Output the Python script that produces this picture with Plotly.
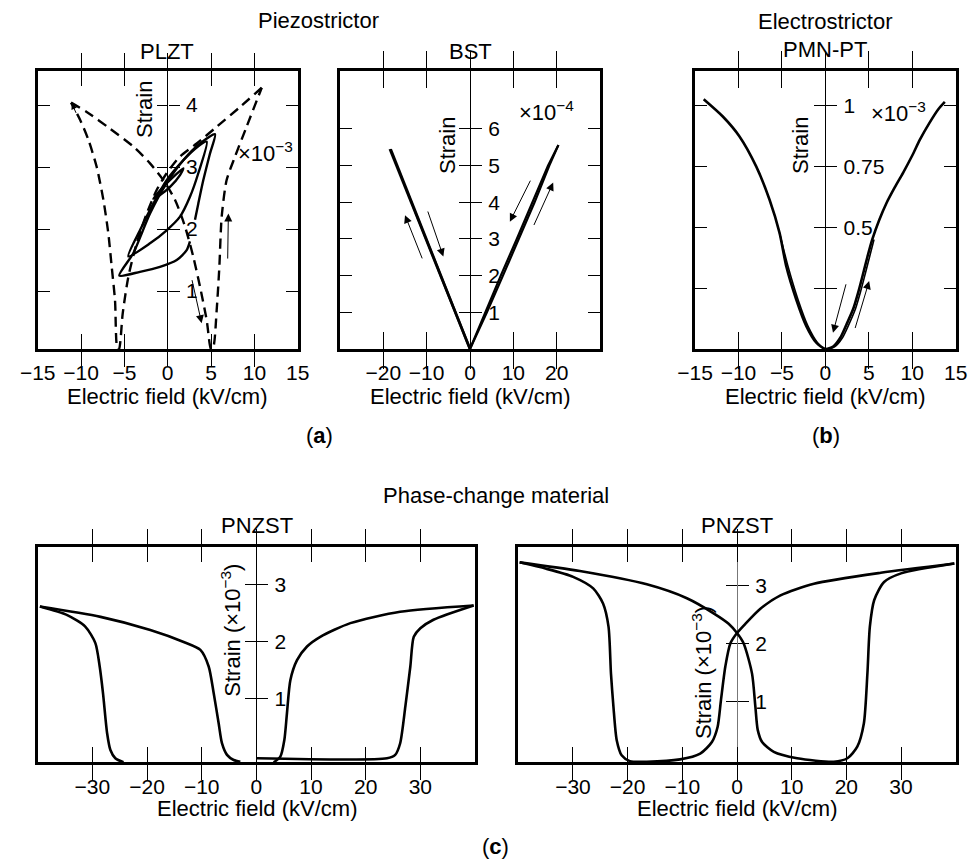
import plotly.graph_objects as go

W, H = 969, 860
FONT = "Liberation Sans, Arial, Helvetica, sans-serif"

# ---------------- (a) PLZT : strain (x1e-3) vs field (kV/cm) ----------------
plzt_dash1_x = [-11.15, -9.35, -6.65, -3.96, -2.04, -0.5, 0.85, 2.0, 2.96, 3.73, 4.5, 5.0,
                5.27, 5.65, 5.96, 6.23, 6.8, 7.77, 9.1, 10.85]
plzt_dash1_y = [4.04, 3.89, 3.62, 3.33, 3.06, 2.79, 2.47, 2.04, 1.55, 1.07, 0.53, 0.065,
                0.10, 0.69, 1.39, 2.2, 2.79, 3.17, 3.65, 4.28]
plzt_dash2_x = [10.85, 8.35, 5.65, 3.35, 1.42, -0.12, -1.27, -2.42, -3.58, -4.54, -5.19, -5.62,
                -5.8, -6.08, -6.46, -6.85, -7.42, -8.19, -9.15, -10.1, -11.15]
plzt_dash2_y = [4.28, 3.97, 3.65, 3.38, 3.17, 2.9, 2.63, 2.25, 1.77, 1.23, 0.64, 0.065,
                0.065, 0.85, 1.39, 1.93, 2.47, 3.0, 3.44, 3.76, 4.04]
# large minor loop: lower branch -> upper branch -> descending branch
plzt_loop1_x = [2.57, 2.19, 1.04, -0.89, -3.2, -5.58, -3.97, -2.04, -0.12, 1.8, 3.73, 5.46,
                4.88, 4.11, 3.53, 3.15]
plzt_loop1_y = [1.8, 1.66, 1.5, 1.39, 1.31, 1.25, 1.61, 2.25, 2.74, 3.11, 3.38, 3.53,
                3.22, 2.79, 2.41, 2.15]
plzt_loop2_x = [-4.54, -3.2, -1.66, -0.12, 1.8, 3.2, 4.5, 3.53, 2.57, 1.42, -0.12, -2.04, -4.54]
plzt_loop2_y = [1.56, 1.98, 2.41, 2.79, 3.11, 3.3, 3.41, 2.9, 2.52, 2.2, 1.98, 1.77, 1.56]
plzt_loop3_x = [-1.66, -0.5, 0.65, 1.8, 1.42, 0.27, -0.88, -1.66]
plzt_loop3_y = [2.49, 2.68, 2.84, 2.98, 2.87, 2.68, 2.55, 2.49]

# ---------------- (a) BST : strain (x1e-4) ----------------
bst_left1_x = [0, -18.5]
bst_left1_y = [0, 5.45]
bst_left2_x = [0, -9.0, -18.3]
bst_left2_y = [0, 2.7, 5.45]
bst_right1_x = [0, 3.5, 7.1, 10.8, 14.4, 18.0, 20.4]
bst_right1_y = [0, 1.0, 2.0, 3.0, 4.0, 5.0, 5.56]
bst_right2_x = [0, 3.9, 7.6, 11.3, 14.9, 18.3, 20.4]
bst_right2_y = [0, 1.0, 2.0, 3.0, 4.0, 5.0, 5.56]

# ---------------- (b) PMN-PT : strain (x1e-3) ----------------
pmn1_x = [-14.0, -11.8, -9.88, -7.96, -6.42, -5.27, -4.5, -3.35, -2.19, -1.04, 0,
          0.9, 1.7, 2.42, 3.19, 3.8, 4.35, 4.85, 5.4, 6.2, 7.04, 8.0, 8.96, 10.0, 10.88, 12.0, 13.0, 13.75]
pmn1_y = [1.026, 0.955, 0.873, 0.75, 0.613, 0.477, 0.34, 0.2035, 0.094, 0.026, 0,
          0.01, 0.045, 0.1, 0.163, 0.235, 0.31, 0.38, 0.45, 0.53, 0.6, 0.665, 0.725, 0.795, 0.86, 0.93, 0.985, 1.015]
pmn2_x = [-5.27, -4.3, -3.15, -2.0, -0.9, 0, 1.1, 1.95, 2.7, 3.45, 4.05, 4.6, 5.1, 5.6]
pmn2_y = [0.477, 0.34, 0.2035, 0.094, 0.026, 0, 0.01, 0.045, 0.1, 0.163, 0.235, 0.31, 0.38, 0.45]

# ---------------- (c) PNZST left : strain (x1e-3) ----------------
pnz1_a_x = [-39.6, -28.5, -19.4, -13.3, -10.24, -8.72, -7.8, -6.89, -6.28, -5.37, -4.15, -2.93]
pnz1_a_y = [2.62, 2.44, 2.21, 2.0, 1.86, 1.57, 1.1, 0.57, 0.22, 0.02, -0.07, -0.1]
pnz1_b_x = [-39.6, -34.6, -31.3, -29.45, -28.66, -28.05, -27.3, -26.7, -25.8, -24.3]
pnz1_b_y = [2.62, 2.47, 2.27, 1.98, 1.57, 1.1, 0.4, 0.105, -0.04, -0.11]
pnz1_c_x = [3.17, 4.39, 5.12, 5.6, 6.22, 7.44, 9.27, 11.7, 17.2, 26.3, 39.75]
pnz1_c_y = [-0.11, -0.01, 0.28, 0.75, 1.33, 1.68, 1.92, 2.09, 2.33, 2.53, 2.64]
pnz1_d_x = [0.12, 23.9, 25.4, 26.3, 27.26, 28.17, 28.8, 30.0, 32.4, 39.75]
pnz1_d_y = [-0.04, -0.04, 0.02, 0.22, 0.87, 1.57, 2.09, 2.24, 2.39, 2.64]

# ---------------- (c) PNZST right : strain (x1e-3) ----------------
pnz2_e_x = [-39.75, -28.75, -16.5, -9.17, -4.28, -1.53, 0, 1.22, 2.75, 3.36, 3.79, 4.59, 6.73,
            11.0, 17.7, 20.2, 22.0, 23.2, 23.85, 24.3, 25.1, 26.9, 30.0, 39.75]
pnz2_e_y = [3.40, 3.25, 3.02, 2.78, 2.52, 2.34, 2.18, 2.0, 1.48, 0.91, 0.51, 0.30, 0.13,
            0.02, -0.04, 0.02, 0.22, 0.62, 1.48, 2.29, 2.75, 3.06, 3.21, 3.38]
pnz2_f_x = [39.75, 26.3, 14.07, 7.95, 4.28, 1.53, 0, -1.22, -2.14, -2.94, -3.55, -4.59, -6.73,
            -10.4, -16.5, -19.6, -21.1, -22.0, -22.6, -23.05, -23.5, -24.5, -26.3, -29.97, -34.9, -39.75]
pnz2_f_y = [3.38, 3.22, 3.03, 2.83, 2.6, 2.34, 2.18, 2.0, 1.6, 1.02, 0.56, 0.30, 0.10,
            0.0, -0.04, -0.03, 0.07, 0.33, 0.91, 1.48, 2.29, 2.69, 2.95, 3.15, 3.29, 3.40]

# ---------------- axis ticks ----------------
ticks_x = {1: [-15, -10, -5, 0, 5, 10, 15], 2: [-20, -10, 0, 10, 20], 3: [-15, -10, -5, 0, 5, 10, 15],
           4: [-30, -20, -10, 0, 10, 20, 30], 5: [-30, -20, -10, 0, 10, 20, 30]}
ticks_y = {1: [1, 2, 3, 4], 2: [1, 2, 3, 4, 5, 6], 3: [0.25, 0.5, 0.75, 1], 4: [1, 2, 3], 5: [1, 2, 3]}
labels_y = {1: ["1", "2", "3", "4"], 2: ["1", "2", "3", "4", "5", "6"], 3: ["", "0.5", "0.75", "1"],
            4: ["1", "2", "3"], 5: ["1", "2", "3"]}

# panel geometry in pixels (left, right, top, bottom) and data ranges
panels = {
    1: dict(px=(37.7, 297.7), py=(71, 349), xr=(-15, 15), yr=(0.065, 4.55), boxy=True, xtl=15, zc="black"),
    2: dict(px=(340, 600), py=(71, 349), xr=(-30, 30), yr=(0, 7.58), boxy=True, xtl=17, zc="black"),
    3: dict(px=(695, 955.7), py=(71, 349), xr=(-15, 15), yr=(0, 1.142), boxy=True, xtl=17, zc="black"),
    4: dict(px=(37.7, 475), py=(546.7, 762.3), xr=(-40, 40), yr=(-0.11, 3.67), boxy=False, xtl=15, zc="black"),
    5: dict(px=(518.3, 955.7), py=(546.7, 762.3), xr=(-40, 40), yr=(-0.05, 3.67), boxy=False, xtl=15, zc="#777777"),
}


def xid(i):
    return "x" if i == 1 else f"x{i}"


def yid(i):
    return "y" if i == 1 else f"y{i}"


fig = go.Figure()
layout = {}
tickfont = dict(family=FONT, size=21, color="black")

for i, p in panels.items():
    xd = [p["px"][0] / W, p["px"][1] / W]
    yd = [1 - p["py"][1] / H, 1 - p["py"][0] / H]
    layout["xaxis" if i == 1 else f"xaxis{i}"] = dict(
        domain=xd, range=list(p["xr"]), anchor=yid(i), showgrid=False, automargin=False,
        zeroline=True, zerolinecolor=p["zc"], zerolinewidth=1.2,
        showline=True, linewidth=3, linecolor="black", mirror="allticks",
        ticks="inside", ticklen=p["xtl"], tickwidth=1.3, tickcolor="black",
        tickmode="array", tickvals=ticks_x[i], tickfont=tickfont, ticklabelstandoff=3,
        fixedrange=True)
    layout["yaxis" if i == 1 else f"yaxis{i}"] = dict(
        domain=yd, range=list(p["yr"]), anchor=xid(i), showgrid=False, zeroline=False,
        automargin=False,
        showline=True, linewidth=3, linecolor="black",
        mirror="allticks" if p["boxy"] else True,
        ticks="inside" if p["boxy"] else "", ticklen=12, tickwidth=1.3, tickcolor="black",
        tickmode="array", tickvals=ticks_y[i], showticklabels=False, fixedrange=True)
    x0frac = xd[0] + (0 - p["xr"][0]) / (p["xr"][1] - p["xr"][0]) * (xd[1] - xd[0])
    # crossing ticks on the zero line: right half with labels, left half without
    for j, side in ((5 + i, "right"), (10 + i, "left")):
        layout[f"yaxis{j}"] = dict(
            overlaying=yid(i), anchor="free", position=x0frac, side=side,
            range=list(p["yr"]), showgrid=False, zeroline=False, showline=False,
            automargin=False,
            ticks="outside", ticklen=11, tickwidth=1.3, tickcolor="black",
            tickmode="array", tickvals=ticks_y[i], ticktext=labels_y[i],
            showticklabels=(side == "right"), tickfont=tickfont, ticklabelstandoff=2,
            fixedrange=True)
        fig.add_trace(go.Scatter(x=[None], y=[None], xaxis=xid(i), yaxis=f"y{j}",
                                 showlegend=False, hoverinfo="skip"))


def line(i, xs, ys, dash="solid", width=2.6, shape="spline"):
    fig.add_trace(go.Scatter(x=xs, y=ys, mode="lines", xaxis=xid(i), yaxis=yid(i),
                             line=dict(color="black", width=width, dash=dash, shape=shape,
                                       smoothing=0.7),
                             showlegend=False, hoverinfo="skip", cliponaxis=True))


dash = "10px,6px"
line(1, plzt_dash1_x, plzt_dash1_y, dash=dash, width=2.4)
line(1, plzt_dash2_x, plzt_dash2_y, dash=dash, width=2.4)
line(1, plzt_loop1_x, plzt_loop1_y, width=2.4)
line(1, plzt_loop2_x, plzt_loop2_y, width=2.4)
line(1, plzt_loop3_x, plzt_loop3_y, width=2.4)

line(2, bst_left1_x, bst_left1_y, shape="linear", width=2.6)
line(2, bst_left2_x, bst_left2_y, shape="linear", width=2.6)
line(2, bst_right1_x, bst_right1_y, shape="linear", width=2.2)
line(2, bst_right2_x, bst_right2_y, shape="linear", width=2.2)

line(3, pmn1_x, pmn1_y, width=2.6)
line(3, pmn2_x, pmn2_y, width=1.6)

line(4, pnz1_a_x, pnz1_a_y, width=2.6)
line(4, pnz1_b_x, pnz1_b_y, width=2.6)
line(4, pnz1_c_x, pnz1_c_y, width=2.6)
line(4, pnz1_d_x, pnz1_d_y, width=2.6)

line(5, pnz2_e_x, pnz2_e_y, width=2.6)
line(5, pnz2_f_x, pnz2_f_y, width=2.6)

annotations = []


def arrow(i, hx, hy, tx, ty, size=1.6):
    annotations.append(dict(x=hx, y=hy, ax=tx, ay=ty, xref=xid(i), yref=yid(i),
                            axref=xid(i), ayref=yid(i), text="", showarrow=True,
                            arrowhead=2, arrowsize=size, arrowwidth=1, arrowcolor="black"))


# direction arrows
arrow(1, -11.07, 4.03, -10.5, 3.85, size=1.2)
arrow(1, 3.92, 0.48, 2.77, 1.2)
arrow(1, 7.0, 2.25, 6.92, 1.5)
arrow(2, -15.0, 3.65, -10.9, 2.43)
arrow(2, -6.15, 2.52, -9.85, 3.79)
arrow(2, 9.2, 3.47, 14.1, 4.63)
arrow(2, 19.2, 4.54, 14.6, 3.34)
arrow(3, 0.88, 0.067, 2.42, 0.272)
arrow(3, 5.04, 0.279, 3.38, 0.08)


def text(px, py, s, size=22, angle=0):
    annotations.append(dict(x=px / W, y=1 - py / H, xref="paper", yref="paper", text=s,
                            showarrow=False, xanchor="center", yanchor="middle", textangle=angle,
                            font=dict(family=FONT, size=size, color="black")))


text(318.5, 20.5, "Piezostrictor")
text(167, 51, "PLZT")
text(470, 51, "BST")
text(825, 21.5, "Electrostrictor")
text(825, 50, "PMN-PT")
text(167, 396.5, "Electric field (kV/cm)")
text(470, 396.5, "Electric field (kV/cm)")
text(825, 396.5, "Electric field (kV/cm)")
text(319, 435, "(<b>a</b>)")
text(826, 435, "(<b>b</b>)")
text(496, 495, "Phase-change material")
text(256.5, 525, "PNZST")
text(736.5, 525, "PNZST")
text(256.5, 808.5, "Electric field (kV/cm)")
text(736.5, 808.5, "Electric field (kV/cm)")
text(496, 846, "(<b>c</b>)")

text(144, 110, "Strain", angle=-90)
text(447.3, 145.7, "Strain", angle=-90)
text(800, 146, "Strain", angle=-90)
text(230.7, 630, "Strain (×10<sup>−3</sup>)", angle=-90)
text(702, 673, "Strain (×10<sup>−3</sup>)", angle=-90)
text(265, 152, "×10<sup>−3</sup>")
text(546.3, 111, "×10<sup>−4</sup>")
text(898.3, 112, "×10<sup>−3</sup>")

fig.update_layout(template="none", width=W, height=H, margin=dict(l=0, r=0, t=0, b=0, autoexpand=False),
                  paper_bgcolor="white", plot_bgcolor="white",
                  annotations=annotations, showlegend=False, **layout)

fig.write_html("out.html", config={"displayModeBar": False},
               post_script="document.body.style.margin='0px';document.body.style.padding='0px';"
                           "document.body.style.overflow='hidden';")
